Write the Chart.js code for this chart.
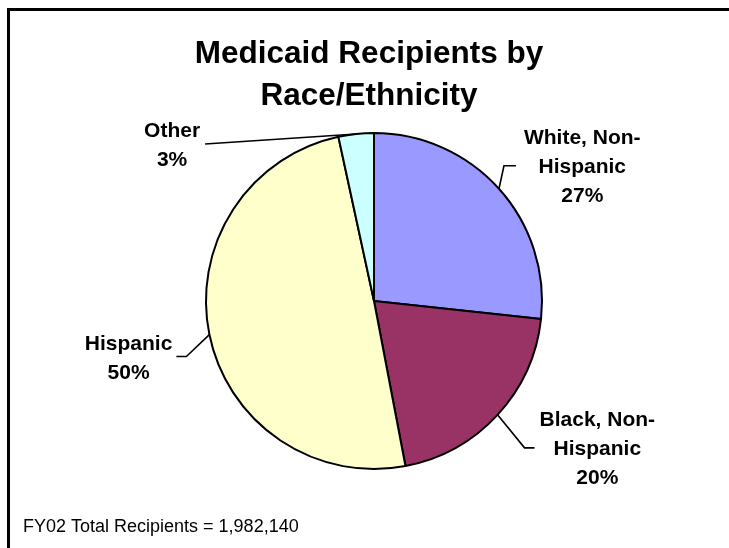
<!DOCTYPE html>
<html><head><meta charset="utf-8">
<script src="https://cdn.jsdelivr.net/npm/chart.js@4/dist/chart.umd.min.js"></script>
<style>html,body{margin:0;padding:0;background:#fff;overflow:hidden}#wrap{position:relative;width:729px;height:548px}</style>
</head><body><div id="wrap"><canvas id="c" width="729" height="548"></canvas></div>
<script>
const categories = ['White, Non-Hispanic', 'Black, Non-Hispanic', 'Hispanic', 'Other'];
const labelLines = [['White, Non-', 'Hispanic'], ['Black, Non-', 'Hispanic'], ['Hispanic'], ['Other']];
const shares = [26.7, 20.3, 49.6, 3.4];
const colors = ['#9999FF', '#993366', '#FFFFCC', '#CCFFFF'];
const titleLines = ['Medicaid Recipients by', 'Race/Ethnicity'];
const footnote = 'FY02 Total Recipients = 1,982,140';

const FONT = '"Liberation Sans", Arial, Helvetica, sans-serif';

const decor = {
  id: 'decor',
  beforeDraw(chart) {
    const ctx = chart.ctx;
    ctx.save();
    ctx.fillStyle = '#fff';
    ctx.fillRect(0, 0, chart.width, chart.height);
    ctx.fillStyle = '#000';
    ctx.fillRect(7, 8, 3, chart.height);
    ctx.fillRect(7, 8, chart.width, 3);
    ctx.restore();
  },
  afterDraw(chart, args, opts) {
    const ctx = chart.ctx;
    ctx.save();
    ctx.fillStyle = '#000';
    ctx.textAlign = 'center';
    ctx.textBaseline = 'alphabetic';
    ctx.font = 'bold 31.5px ' + FONT;
    titleLines.forEach((t, i) => ctx.fillText(t, 369, 62.5 + i * 42.5));
    ctx.textAlign = 'left';
    ctx.font = '18px ' + FONT;
    ctx.fillText(footnote, 23, 532);

    const meta = chart.getDatasetMeta(0);
    const total = shares.reduce((a, b) => a + b, 0);
    meta.data.forEach((arc, i) => {
      const L = opts.leaders[i];
      const p = arc.getProps(['x', 'y', 'startAngle', 'endAngle', 'outerRadius'], true);
      const mid = (p.startAngle + p.endAngle) / 2;
      const px = p.x + Math.cos(mid) * p.outerRadius;
      const py = p.y + Math.sin(mid) * p.outerRadius;
      const ex = px + L.elbow[0], ey = py + L.elbow[1];
      const tx = ex + L.tail, ty = ey;
      ctx.strokeStyle = '#000';
      ctx.lineWidth = 1.6;
      ctx.beginPath();
      ctx.moveTo(px, py);
      ctx.lineTo(ex, ey);
      if (L.tail) ctx.lineTo(tx, ty);
      ctx.stroke();
      const lines = labelLines[i].concat([Math.round(shares[i] / total * 100) + '%']);
      ctx.font = 'bold 21px ' + FONT;
      const w = Math.max(...lines.map(s => ctx.measureText(s).width));
      const cx = L.side === 'right' ? tx + L.gap + w / 2 : tx - L.gap - w / 2;
      ctx.textAlign = 'center';
      lines.forEach((s, j) => {
        const cy = ty + (j - (lines.length - 1) / 2) * 29;
        ctx.fillText(s, cx, cy + 7.5);
      });
    });
    ctx.restore();
  }
};

new Chart(document.getElementById('c'), {
  type: 'pie',
  data: {
    labels: categories,
    datasets: [{ data: shares, backgroundColor: colors, borderColor: '#000', borderWidth: 2 }]
  },
  options: {
    responsive: false,
    animation: false,
    layout: { padding: { top: 132, bottom: 78, left: 205, right: 186 } },
    plugins: {
      legend: { display: false },
      tooltip: { enabled: false },
      title: { display: false },
      decor: {
        leaders: [
          { elbow: [5, -23], tail: 12, side: 'right', gap: 8 },
          { elbow: [27, 33], tail: 10, side: 'right', gap: 5 },
          { elbow: [-23, 22], tail: -10, side: 'left', gap: 4 },
          { elbow: [-151, 10], tail: 0, side: 'left', gap: 5 }
        ]
      }
    }
  },
  plugins: [decor]
});
</script>
</body></html>
